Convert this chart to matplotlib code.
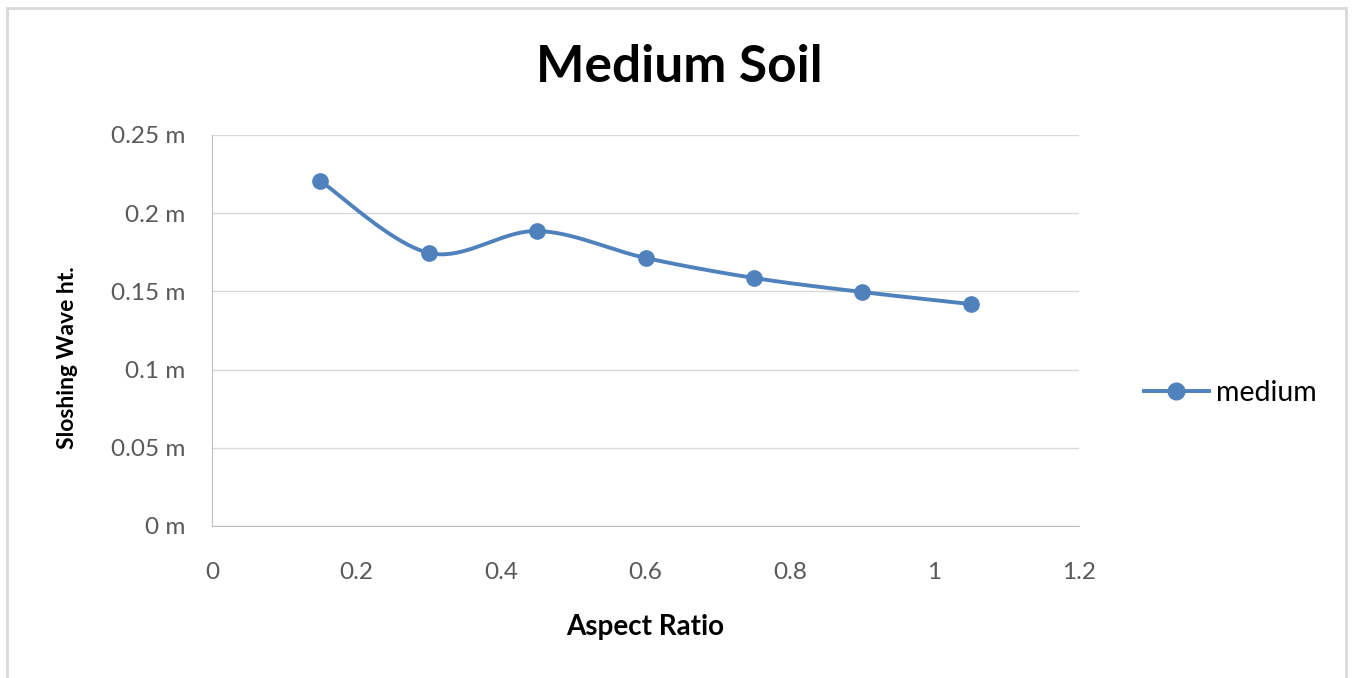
import numpy as np
import matplotlib.pyplot as plt
from matplotlib.patches import Rectangle
from matplotlib.lines import Line2D

# data
aspect_ratio = [0.15, 0.30, 0.45, 0.60, 0.75, 0.90, 1.05]
wave_ht = [0.2206, 0.1746, 0.1886, 0.1714, 0.1586, 0.1496, 0.1419]
x_ticks = [0, 0.2, 0.4, 0.6, 0.8, 1, 1.2]
x_tick_labels = ['0', '0.2', '0.4', '0.6', '0.8', '1', '1.2']
y_ticks = [0, 0.05, 0.1, 0.15, 0.2, 0.25]
y_tick_labels = ['0 m', '0.05 m', '0.1 m', '0.15 m', '0.2 m', '0.25 m']

BLUE = '#4f81bd'
GRID = '#d9d9d9'
FONT = ['Lato', 'DejaVu Sans']


# Excel-like smoothed line (cubic bezier through the points)
def smooth(xs, ys, n=40):
    xs = np.asarray(xs, float)
    ys = np.asarray(ys, float)
    px, py = [], []
    for i in range(len(xs) - 1):
        x0, y0 = (xs[i - 1], ys[i - 1]) if i > 0 else (xs[i], ys[i])
        x3, y3 = (xs[i + 2], ys[i + 2]) if i + 2 < len(xs) else (xs[i + 1], ys[i + 1])
        x1, y1 = xs[i], ys[i]
        x2, y2 = xs[i + 1], ys[i + 1]
        c1 = (x1 + (x2 - x0) / 6, y1 + (y2 - y0) / 6)
        c2 = (x2 - (x3 - x1) / 6, y2 - (y3 - y1) / 6)
        t = np.linspace(0, 1, n)
        px.extend((1 - t) ** 3 * x1 + 3 * (1 - t) ** 2 * t * c1[0] + 3 * (1 - t) * t ** 2 * c2[0] + t ** 3 * x2)
        py.extend((1 - t) ** 3 * y1 + 3 * (1 - t) ** 2 * t * c1[1] + 3 * (1 - t) * t ** 2 * c2[1] + t ** 3 * y2)
    return px, py


fig = plt.figure(figsize=(13.54, 6.78), dpi=100)
fig.patches.append(Rectangle((0.005, -0.01), 0.989, 0.998, transform=fig.transFigure,
                             fill=False, edgecolor='#d9d9d9', linewidth=2))

ax = fig.add_axes([0.1566, 0.2242, 0.6403, 0.5767])
sx, sy = smooth(aspect_ratio, wave_ht)
ax.plot(sx, sy, color=BLUE, linewidth=2.8, solid_capstyle='round', zorder=3)
ax.plot(aspect_ratio, wave_ht, 'o', color=BLUE, markersize=11, zorder=4)

ax.set_xlim(0, 1.2)
ax.set_ylim(0, 0.25)
ax.set_xticks(x_ticks)
ax.set_xticklabels(x_tick_labels)
ax.set_yticks(y_ticks)
ax.set_yticklabels(y_tick_labels)
ax.tick_params(length=0, labelsize=17.5, labelcolor='#595959')
ax.tick_params(axis='x', pad=26)
ax.tick_params(axis='y', pad=19.5)
for lab in ax.get_xticklabels() + ax.get_yticklabels():
    lab.set_family(FONT)

ax.grid(axis='y', color=GRID, linewidth=1)
ax.set_axisbelow(True)
for s in ['top', 'right']:
    ax.spines[s].set_visible(False)
for s in ['left', 'bottom']:
    ax.spines[s].set_color('#bfbfbf')

ax.set_xlabel('Aspect Ratio', fontsize=20, fontweight='bold', family=FONT, labelpad=22)
ax.set_ylabel('Sloshing Wave ht.', fontsize=16.5, fontweight='bold', family=FONT)
ax.yaxis.set_label_coords(-0.155, 0.43)

fig.text(0.5015, 0.90, 'Medium Soil', ha='center', va='center', fontsize=37,
         fontweight='bold', family=FONT)

handle = Line2D([], [], color=BLUE, linewidth=2.8, marker='o', markersize=12)
fig.legend([handle], ['medium'], loc='center left', bbox_to_anchor=(0.826, 0.42),
           frameon=False, handlelength=2.28, handletextpad=0.25,
           prop={'family': FONT, 'size': 20.5})

fig.savefig('out.png', dpi=100)
